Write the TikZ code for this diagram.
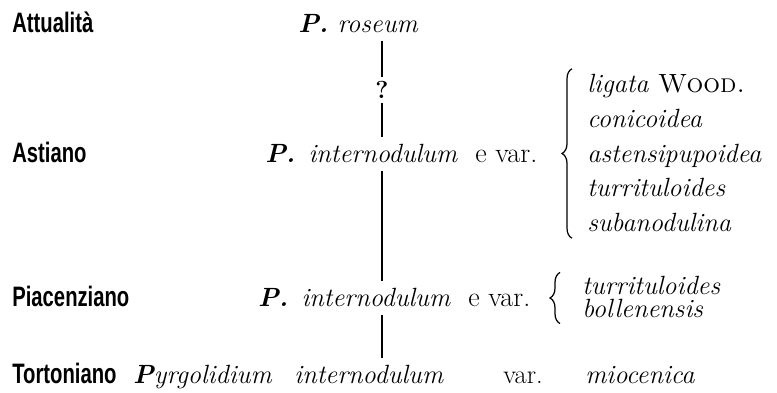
\documentclass[tikz,border=0pt]{standalone}
\usepackage{fontspec}
\usetikzlibrary{positioning, decorations.pathreplacing, calc}
\newfontfamily\agefont{Liberation Sans}[FakeStretch=0.72]
\tikzset{
  age/.style={font=\fontsize{16}{18}\selectfont\agefont\bfseries, anchor=base west, inner sep=0pt},
  taxon/.style={font=\fontsize{15}{18}\selectfont\itshape, anchor=base west, inner sep=2.5pt},
  varlist/.style={font=\fontsize{15}{19.8}\selectfont\itshape, align=left, inner sep=0pt, anchor=west},
  stem/.style={line width=0.9pt, shorten <=1.5pt, shorten >=1.5pt},
  brc/.style={decorate, decoration={brace, amplitude=0.2cm}, line width=0.7pt},
}
\newcommand{\gen}[1]{\textbf{#1}}
\newcommand{\evar}{\textup{\fontsize{16}{18}\selectfont\addfontfeature{LetterSpace=6}e var.}}

\begin{document}
\begin{tikzpicture}
  \useasboundingbox (0,0) rectangle (15.54,7.86);
  % stages
  \node[age] (attu) at (0.24,7.2)  {Attualità};
  \node[age] (asti) at (0.24,4.6)  {Astiano};
  \node[age] (piac) at (0.24,1.72) {Piacenziano};
  \node[age] (tort) at (0.24,0.18) {Tortoniano};
  % species
  \node[taxon] (roseum) at (5.87,7.2) {\gen{P.}\ roseum};
  \node[font=\fontsize{14}{16}\selectfont\bfseries, inner sep=1pt] (qm) at (7.64,6.06) {?};
  \node[taxon] (astsp) at (5.21,4.6) {\gen{P.}\enspace internodulum\hspace{10pt}\evar};
  \node[taxon] (piacsp) at (5.07,1.72) {\gen{P.}\enspace internodulum\hspace{10pt}\evar};
  \node[taxon] (tortsp) at (2.57,0.18) {\gen{P}yrgolidium\hspace{13pt}internodulum};
  \node[taxon] (tortvar) at (9.97,0.18) {\textup{var.}};
  \node[taxon] (tortmio) at (11.61,0.18) {miocenica};
  % varieties
  \node[varlist] (astlist) at (11.74,4.8) {ligata \textup{\textsc{Wood.}}\\ conicoidea\\ astensipupoidea\\ turrituloides\\ subanodulina};
  \node[varlist, font=\fontsize{15}{13.6}\selectfont\itshape] (piaclist) at (11.64,1.92) {turrituloides\\ bollenensis};
  \draw[brc] ([shift={(-0.3,-0.12)}]astlist.south west) -- ([shift={(-0.3,0.1)}]astlist.north west);
  \draw[brc] ([shift={(-0.44,-0.1)}]piaclist.south west) -- ([shift={(-0.44,0.06)}]piaclist.north west);
  % descent
  \draw[stem] (qm |- roseum.south) -- (qm.north);
  \draw[stem] (qm.south) -- (qm |- astsp.north);
  \draw[stem] (qm |- astsp.south) -- (qm |- piacsp.north);
  \draw[stem] (qm |- piacsp.south) -- (qm |- tortsp.north);
\end{tikzpicture}
\end{document}
